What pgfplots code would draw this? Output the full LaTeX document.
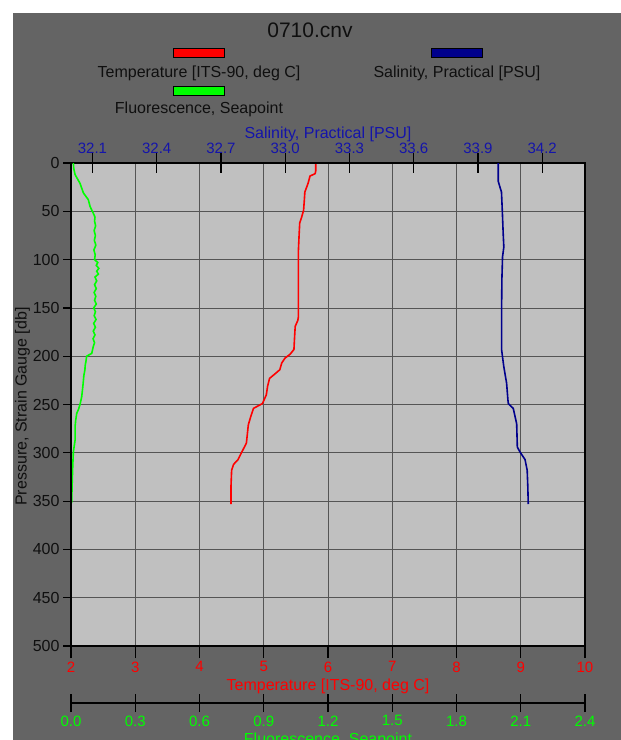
\documentclass[border=0pt]{standalone}
\usepackage{pgfplots}
\usepackage{pgfplotstable}
\pgfplotsset{compat=1.18}
\usepackage{fontspec}
\setmainfont{Liberation Sans}
\definecolor{bgdark}{RGB}{100,100,100}
\definecolor{plotbg}{RGB}{192,192,192}
\definecolor{gridc}{RGB}{85,85,85}
\definecolor{salline}{RGB}{0,0,140}
\definecolor{saltext}{RGB}{20,20,170}
\definecolor{tred}{RGB}{255,0,0}
\definecolor{fgreen}{RGB}{0,255,0}
\definecolor{txt}{RGB}{15,15,15}

\pgfplotstableread{
T p
5.81 0
5.81 8
5.80 11
5.72 13.5
5.69 21
5.64 30
5.63 40
5.62 49
5.59 56
5.56 62
5.55 75
5.54 90
5.54 120
5.54 159
5.53 163
5.51 166
5.49 169
5.48 180
5.47 193
5.41 198
5.33 202
5.28 207
5.25 214
5.18 218
5.09 223
5.06 231
5.04 240
4.98 249
4.84 254
4.80 262
4.76 271
4.73 290
4.66 299
4.60 307
4.53 312
4.50 318
4.49 335
4.49 353
}\temptable

\pgfplotstableread{
S p
33.995 0
33.995 19
34.003 25
34.010 30
34.014 50
34.018 73
34.021 87
34.015 97
34.012 120
34.011 142
34.011 170
34.011 194
34.021 211
34.034 228
34.040 245
34.042 249
34.065 254
34.081 270
34.084 294
34.096 299
34.120 307
34.130 318
34.133 335
34.135 353
}\saltable

\pgfplotstableread{
F p
0.011 0
0.013 6
0.019 12
0.042 21
0.058 31
0.081 38
0.089 45
0.104 52
0.112 56
0.110 60
0.115 65
0.108 70
0.114 75
0.109 80
0.116 85
0.107 90
0.113 95
0.110 100
0.125 103
0.118 106
0.130 109
0.120 112
0.128 115
0.112 118
0.120 122
0.110 126
0.118 130
0.108 134
0.116 138
0.110 142
0.118 146
0.106 150
0.114 154
0.108 158
0.117 162
0.106 166
0.114 170
0.104 174
0.112 178
0.103 182
0.110 186
0.104 190
0.100 194
0.097 197
0.073 200
0.070 205
0.066 210
0.065 214
0.060 220
0.058 225
0.055 232
0.050 242
0.042 250
0.035 255
0.027 259
0.022 266
0.019 273
0.019 287
0.015 293
0.011 299
0.008 315
0.006 328
0.003 352
}\fluotable

\begin{document}
\begin{tikzpicture}[x=1pt,y=1pt]
\useasboundingbox (0,0) rectangle (621,-740);
\fill[white] (0,0) rectangle (621,-740);
\fill[bgdark] (13,-13) rectangle (621,-740);
% title and legend
\node[font=\fontsize{21}{25}\selectfont, text=txt] at (310,-30) {0710.cnv};
\draw[fill=tred, draw=black, line width=0.6] (173,-48) rectangle (224,-57);
\node[font=\fontsize{16}{19}\selectfont, text=txt] at (199,-73) {Temperature [ITS-90, deg C]};
\draw[fill=salline, draw=black, line width=0.6] (431,-48) rectangle (482,-57);
\node[font=\fontsize{16}{19}\selectfont, text=txt] at (457,-73) {Salinity, Practical [PSU]};
\draw[fill=fgreen, draw=black, line width=0.6] (173,-86) rectangle (224,-95);
\node[font=\fontsize{16}{19}\selectfont, text=txt] at (199,-109) {Fluorescence, Seapoint};

\pgfplotsset{common/.style={at={(71pt,-646pt)}, anchor=south west, scale only axis,
  width=514pt, height=483pt, ymin=0, ymax=500, y dir=reverse,
  /pgf/number format/assume math mode=true,
  label style={font=\fontsize{16}{19}\selectfont},
  tick label style={font=\fontsize{15}{18}\selectfont}}}

% Temperature axis with background and grid
\begin{axis}[common, xmin=2, xmax=10, xtick={2,3,4,5,6,7,8,9,10},
  ytick={0,50,...,500}, yticklabels={}, ytick style={draw=none},
  xtick pos=left, tick align=outside, major tick length=12pt,
  xtick style={black, line width=1.2pt},
  grid=major, grid style={gridc, line width=0.7pt},
  axis background/.style={fill=plotbg},
  axis line style={black, line width=1.3pt},
  xticklabel style={text=tred},
  xlabel={Temperature [ITS-90, deg C]}, xlabel style={text=tred}]
\addplot[tred, line width=1.6pt] table[x=T, y=p] {\temptable};
\end{axis}

% Salinity axis (top)
\begin{axis}[common, xmin=32, xmax=34.4, axis x line*=top, axis y line=none,
  xtick={32.1,32.4,32.7,33.0,33.3,33.6,33.9,34.2},
  tick align=center, major tick length=20pt,
  xtick style={black, line width=1.2pt},
  axis line style={black, line width=1.3pt},
  xticklabel style={text=saltext, yshift=-4pt, /pgf/number format/.cd, fixed, fixed zerofill, precision=1},
  xlabel={Salinity, Practical [PSU]}, xlabel style={text=saltext, yshift=-6pt}]
\addplot[salline, line width=1.6pt] table[x=S, y=p] {\saltable};
\end{axis}

% Fluorescence axis (shifted below)
\begin{axis}[common, xmin=0, xmax=2.4, axis x line*=bottom, axis y line=none,
  axis x line shift=57pt,
  xtick={0,0.3,0.6,0.9,1.2,1.5,1.8,2.1,2.4},
  tick align=center, major tick length=18pt,
  xtick style={black, line width=1.2pt},
  axis line style={black, line width=1.2pt},
  xticklabel style={text=fgreen, /pgf/number format/.cd, fixed, fixed zerofill, precision=1},
  xlabel={Fluorescence, Seapoint}, xlabel style={text=fgreen}]
\addplot[fgreen, line width=1.6pt] table[x=F, y=p] {\fluotable};
\end{axis}

% Pressure axis (left)
\begin{axis}[common, xmin=0, xmax=1, axis y line*=left, axis x line=none,
  ytick={0,50,...,500}, tick align=outside, major tick length=8pt,
  ytick style={black, line width=1.2pt},
  axis line style={black, line width=1.8pt},
  yticklabel style={text=txt, font=\fontsize{16}{19}\selectfont},
  ylabel={Pressure, Strain Gauge [db]}, ylabel style={text=txt, xshift=-2pt, yshift=-4pt}]
\end{axis}
\end{tikzpicture}
\end{document}
